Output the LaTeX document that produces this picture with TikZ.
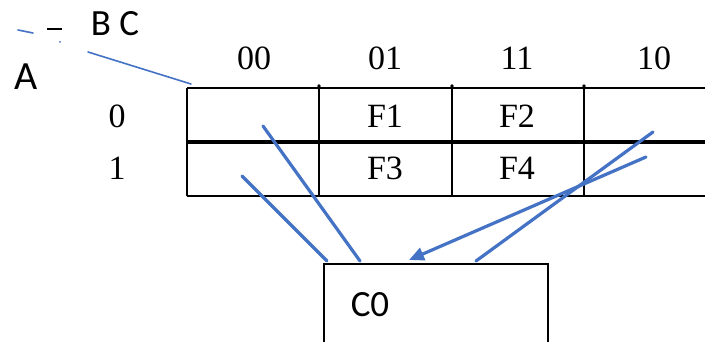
\documentclass[tikz,border=0pt]{standalone}
\usepackage{fontspec}
\setmainfont{Liberation Serif}
\newfontfamily\calib{Carlito}
\usetikzlibrary{arrows.meta,calc}
\definecolor{penblue}{RGB}{68,114,196}
\tikzset{
  grid/.style={line width=2pt, black},
  midrule/.style={line width=4.2pt, black},
  serif/.style={font=\fontsize{34}{38}\selectfont, inner sep=0pt},
  sanslbl/.style={font=\calib\fontsize{37}{42}\selectfont, inner sep=0pt},
  ink/.style={draw=penblue, line width=3.2pt, line cap=round},
  thinink/.style={draw=penblue, line width=1.6pt, line cap=round},
}
\begin{document}
\begin{tikzpicture}[x=1pt, y=-1pt]
\useasboundingbox (0,0) rectangle (705,342);
\clip (0,0) rectangle (705,342);
\fill[white] (0,0) rectangle (705,342);

% map grid
\draw[grid] (187,88) -- (705,88);
\draw[grid] (187,196) -- (705,196);
\draw[midrule] (187,142) -- (705,142);
\foreach \cx in {187,319,452,584} \draw[grid] (\cx,88) -- (\cx,196);
\foreach \cx in {319,452,584} \fill (\cx,86) circle (1.8pt);

% column and row headings
\node[serif] (h00) at (254,58) {00};
\node[serif] (h01) at (385,58) {01};
\node[serif] (h11) at (517,58) {11};
\node[serif] (h10) at (654,58) {10};
\node[serif] (r0) at (117,116) {0};
\node[serif] (r1) at (117,168) {1};

% cell entries
\node[serif] (f1) at (385,116) {F1};
\node[serif] (f2) at (517,116) {F2};
\node[serif] (f3) at (385,168) {F3};
\node[serif] (f4) at (517,168) {F4};

% variable labels in the corner
\node[sanslbl] (bc) at (115,24) {B C};
\node[sanslbl, font=\calib\fontsize{40}{44}\selectfont] (a) at (26,77) {A};
\draw[thinink] (18,30) -- (33,33);
\draw[line width=1.6pt] (47,29) -- (62,29);
\fill[penblue] (60,42) circle (1pt);
\coordinate (diagA) at (88,52);
\coordinate (diagB) at (191,84);
\draw[thinink] (diagA) -- (diagB);

% output box
\node[draw, line width=2pt, minimum width=224pt, minimum height=110pt,
      anchor=north west, inner sep=0pt] (box) at (323,263) {};
\node[sanslbl] (c0) at (370,305) {C0};

% pen strokes from the cells to the box
\coordinate (s1) at (263,126);
\coordinate (s2) at (242,176);
\coordinate (s3) at (653,132);
\coordinate (s4) at (646,157);
\coordinate (e1) at ($(box.north west)+(37,-2)$);
\coordinate (e2) at ($(box.north west)+(4,-2)$);
\coordinate (e3) at ($(box.north west)+(153,-2)$);
\coordinate (e4) at ($(box.north west)+(86,-3)$);
\draw[ink] (s1) -- (e1);
\draw[ink] (s2) -- (e2);
\draw[ink] (s3) -- (e3);
\draw[ink, -{Triangle[length=15pt, width=13pt]}] (s4) -- (e4);
\end{tikzpicture}
\end{document}
